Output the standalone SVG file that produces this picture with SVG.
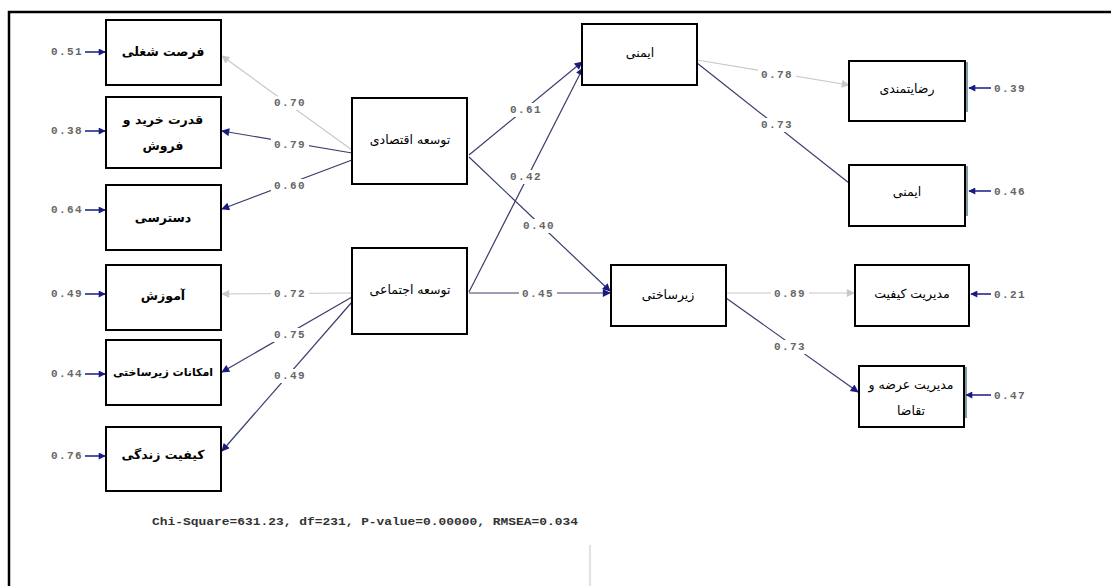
<svg xmlns="http://www.w3.org/2000/svg" width="1111" height="586" viewBox="0 0 1111 586">
<style>
.box{fill:#fff;stroke:#000;stroke-width:2}
.fa{font-family:"DejaVu Sans",sans-serif;font-size:12.5px;fill:#000;text-anchor:middle;dominant-baseline:central}
.b{font-weight:bold}
.num{font-family:"Liberation Mono","Courier New",monospace;font-size:11px;letter-spacing:1.4px;fill:#666;text-anchor:middle;dominant-baseline:central;font-weight:bold}
.nv{fill:none;stroke:#3c3c6c;stroke-width:1.2}
.gr{fill:none;stroke:#c8c8c8;stroke-width:1.2}
.err{fill:none;stroke:#1a1a80;stroke-width:1.5}
.lbg{fill:#fff}
.sh{stroke:#2a5a6a;stroke-width:1.2}
</style>
<defs>
<marker id="an" viewBox="0 0 10 10" refX="9" refY="5" markerWidth="10" markerHeight="8" markerUnits="userSpaceOnUse" orient="auto">
<path d="M0,0 L10,5 L0,10 z" fill="#1a1a80"/>
</marker>
<marker id="ag" viewBox="0 0 10 10" refX="9" refY="5" markerWidth="10" markerHeight="8" markerUnits="userSpaceOnUse" orient="auto">
<path d="M0,0 L10,5 L0,10 z" fill="#c8c8c8"/>
</marker>
<marker id="ae" viewBox="0 0 10 10" refX="9" refY="5" markerWidth="9" markerHeight="7" markerUnits="userSpaceOnUse" orient="auto">
<path d="M0,0 L10,5 L0,10 z" fill="#1a1a80"/>
</marker>
</defs>
<rect width="1111" height="586" fill="#fff"/>
<path d="M9,586 V12 H1111" fill="none" stroke="#000" stroke-width="2.5"/>
<line x1="590" y1="545" x2="590" y2="586" stroke="#e2e2e2" stroke-width="2"/>

<g id="connectors">
<line class="gr" x1="352" y1="150" x2="222" y2="56" marker-end="url(#ag)"/>
<line class="nv" x1="352" y1="153" x2="222" y2="131" marker-end="url(#an)"/>
<line class="nv" x1="352" y1="160" x2="222" y2="209" marker-end="url(#an)"/>
<line class="gr" x1="352" y1="293" x2="222" y2="294" marker-end="url(#ag)"/>
<line class="nv" x1="352" y1="297" x2="222" y2="372" marker-end="url(#an)"/>
<line class="nv" x1="352" y1="302" x2="222" y2="451" marker-end="url(#an)"/>
<line class="nv" x1="469" y1="155" x2="582" y2="62" marker-end="url(#an)"/>
<line class="nv" x1="469" y1="157" x2="610" y2="291" marker-end="url(#an)"/>
<line class="nv" x1="469" y1="292" x2="583" y2="68" marker-end="url(#an)"/>
<line class="nv" x1="469" y1="293" x2="610" y2="293" marker-end="url(#an)"/>
<line class="gr" x1="697" y1="60" x2="849" y2="85" marker-end="url(#ag)"/>
<line class="nv" x1="697" y1="63" x2="849" y2="183"/>
<line class="gr" x1="726" y1="293" x2="854" y2="293" marker-end="url(#ag)"/>
<line class="nv" x1="726" y1="298" x2="858" y2="392" marker-end="url(#an)"/>

<line class="err" x1="85" y1="52" x2="105" y2="52" marker-end="url(#ae)"/>
<line class="err" x1="85" y1="131" x2="105" y2="131" marker-end="url(#ae)"/>
<line class="err" x1="85" y1="210" x2="105" y2="210" marker-end="url(#ae)"/>
<line class="err" x1="85" y1="294" x2="105" y2="294" marker-end="url(#ae)"/>
<line class="err" x1="85" y1="374" x2="105" y2="374" marker-end="url(#ae)"/>
<line class="err" x1="85" y1="456" x2="105" y2="456" marker-end="url(#ae)"/>
<line class="err" x1="991" y1="88" x2="969" y2="88" marker-end="url(#ae)"/>
<line class="err" x1="991" y1="191" x2="969" y2="191" marker-end="url(#ae)"/>
<line class="err" x1="991" y1="294" x2="971" y2="294" marker-end="url(#ae)"/>
<line class="err" x1="991" y1="395" x2="966" y2="395" marker-end="url(#ae)"/>

<rect class="lbg" x="271" y="96" width="38" height="14"/><text class="num" x="290" y="103">0.70</text>
<rect class="lbg" x="271" y="138" width="38" height="14"/><text class="num" x="290" y="145">0.79</text>
<rect class="lbg" x="271" y="179" width="38" height="14"/><text class="num" x="290" y="186">0.60</text>
<rect class="lbg" x="271" y="287" width="38" height="14"/><text class="num" x="290" y="294">0.72</text>
<rect class="lbg" x="271" y="328" width="38" height="14"/><text class="num" x="290" y="335">0.75</text>
<rect class="lbg" x="271" y="369" width="38" height="14"/><text class="num" x="290" y="376">0.49</text>
<rect class="lbg" x="507" y="103" width="38" height="14"/><text class="num" x="526" y="110">0.61</text>
<rect class="lbg" x="507" y="170" width="38" height="14"/><text class="num" x="526" y="177">0.42</text>
<rect class="lbg" x="520" y="219" width="38" height="14"/><text class="num" x="539" y="226">0.40</text>
<rect class="lbg" x="519" y="287" width="38" height="14"/><text class="num" x="538" y="294">0.45</text>
<rect class="lbg" x="758" y="68" width="38" height="14"/><text class="num" x="777" y="75">0.78</text>
<rect class="lbg" x="758" y="118" width="38" height="14"/><text class="num" x="777" y="125">0.73</text>
<rect class="lbg" x="771" y="287" width="38" height="14"/><text class="num" x="790" y="294">0.89</text>
<rect class="lbg" x="771" y="340" width="38" height="14"/><text class="num" x="790" y="347">0.73</text>

<text class="num" x="67" y="52">0.51</text>
<text class="num" x="67" y="131">0.38</text>
<text class="num" x="67" y="210">0.64</text>
<text class="num" x="67" y="294">0.49</text>
<text class="num" x="67" y="374">0.44</text>
<text class="num" x="67" y="456">0.76</text>
<text class="num" x="1010" y="89">0.39</text>
<text class="num" x="1010" y="192">0.46</text>
<text class="num" x="1010" y="295">0.21</text>
<text class="num" x="1010" y="396">0.47</text>
</g>

<g id="n-forsat"><rect class="box" x="106" y="20" width="115" height="65"/><text class="fa b" x="163" y="51">فرصت شغلی</text></g>
<g id="n-ghodrat"><rect class="box" x="106" y="97" width="115" height="71"/><text class="fa b" x="163" y="119">قدرت خرید و</text><text class="fa b" x="163" y="145">فروش</text></g>
<g id="n-dastresi"><rect class="box" x="106" y="185" width="115" height="65"/><text class="fa b" x="163" y="217">دسترسی</text></g>
<g id="n-amoozesh"><rect class="box" x="106" y="265" width="115" height="65"/><text class="fa b" x="163" y="295">آموزش</text></g>
<g id="n-emkanat"><rect class="box" x="106" y="340" width="115" height="65"/><text class="fa b" x="163" y="372" style="font-size:11px">امکانات زیرساختی</text></g>
<g id="n-keyfiat"><rect class="box" x="106" y="427" width="115" height="64"/><text class="fa b" x="163" y="454">کیفیت زندگی</text></g>

<g id="n-eghtesadi"><rect class="box" x="352" y="98" width="115" height="86"/><text class="fa" x="410" y="139">توسعه اقتصادی</text></g>
<g id="n-ejtemaei"><rect class="box" x="352" y="248" width="115" height="86"/><text class="fa" x="410" y="289">توسعه اجتماعی</text></g>

<g id="n-imeni"><rect class="box" x="582" y="24" width="115" height="61"/><text class="fa" x="640" y="52">ایمنی</text></g>
<g id="n-zirsakhti"><rect class="box" x="611" y="265" width="115" height="61"/><text class="fa" x="668" y="294">زیرساختی</text></g>

<g id="n-rezayat"><line class="sh" x1="967" y1="62" x2="967" y2="112"/><rect class="box" x="849" y="61" width="116" height="60"/><text class="fa" x="907" y="88">رضایتمندی</text></g>
<g id="n-imeni2"><line class="sh" x1="967" y1="166" x2="967" y2="216"/><rect class="box" x="849" y="165" width="116" height="61"/><text class="fa" x="907" y="191">ایمنی</text></g>
<g id="n-modiriat-k"><rect class="box" x="855" y="265" width="114" height="61"/><text class="fa" x="912" y="293">مدیریت کیفیت</text></g>
<g id="n-modiriat-a"><line class="sh" x1="966" y1="367" x2="966" y2="418"/><rect class="box" x="859" y="366" width="105" height="61"/><text class="fa" x="911" y="384">مدیریت عرضه و</text><text class="fa" x="911" y="410">تقاضا</text></g>

<text x="152" y="521" font-family="Liberation Mono,'Courier New',monospace" font-size="11.5" font-weight="bold" fill="#333" dominant-baseline="central" textLength="426" lengthAdjust="spacingAndGlyphs">Chi-Square=631.23, df=231, P-value=0.00000, RMSEA=0.034</text>
</svg>
